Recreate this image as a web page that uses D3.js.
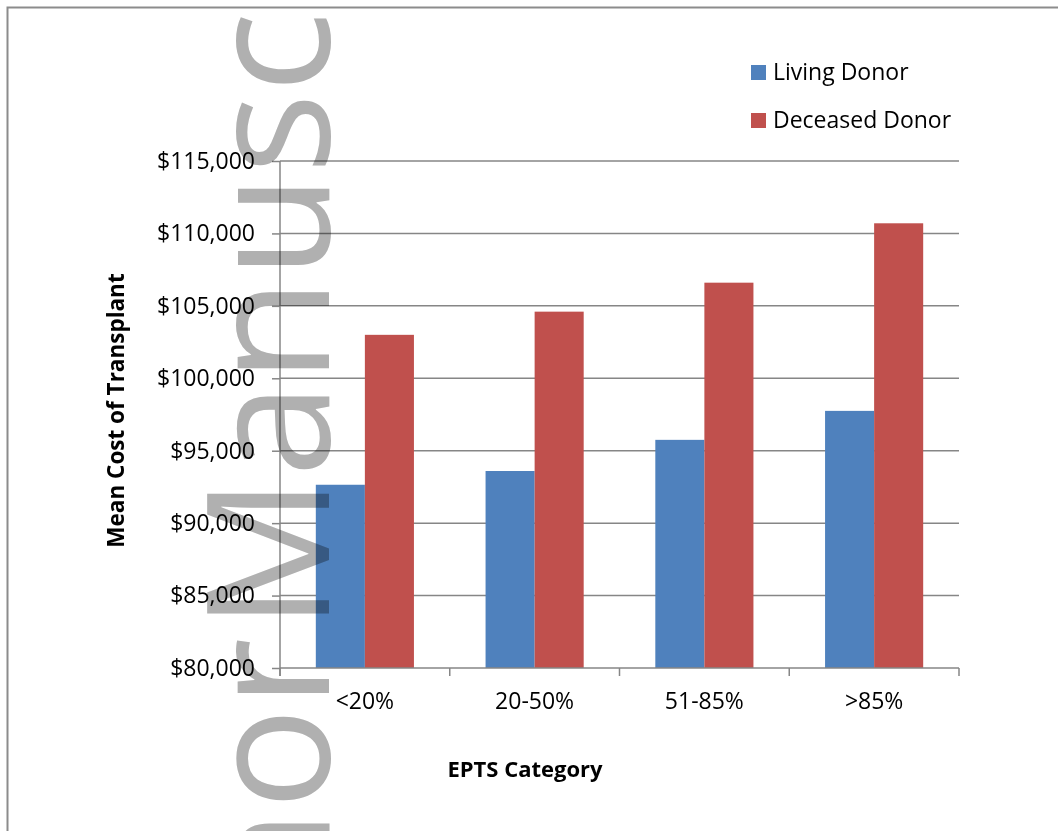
<!DOCTYPE html>
<html>
<head>
<meta charset="utf-8">
<script src="https://cdn.jsdelivr.net/npm/d3@7"></script>
<style>
  body { margin: 0; background: #fff; }
  svg { display: block; }
  text { font-family: "Open Sans", "DejaVu Sans", sans-serif; fill: #000; }
  .wm { mix-blend-mode: multiply; }
</style>
</head>
<body>
<svg id="chart" width="1058" height="831"></svg>
<script>
// data
var categories = ["<20%", "20-50%", "51-85%", ">85%"]
var series_names = ["Living Donor", "Deceased Donor"]
var living_donor = [92650, 93600, 95750, 97750]
var deceased_donor = [103000, 104600, 106600, 110700]
var y_ticks = [80000, 85000, 90000, 95000, 100000, 105000, 110000, 115000]
var series_colors = ["#4F81BD", "#C0504D"]

var svg = d3.select("#chart")
var width = 1058, height = 831
var plot_left = 280, plot_right = 959, plot_top = 161, plot_bottom = 668

// outer frame (only top and left are inside the picture)
svg.append("rect")
  .attr("x", 7.5).attr("y", 7.5)
  .attr("width", width + 20).attr("height", height + 20)
  .style("fill", "none")
  .style("stroke", "#8c8c8c")
  .style("stroke-width", 2)

var x = d3.scaleBand().domain(categories).range([plot_left, plot_right]).padding(0)
var x_sub = d3.scaleBand().domain(series_names).range([0, x.bandwidth()])
  .paddingInner(0).paddingOuter(0.73)
var y = d3.scaleLinear().domain([80000, 115000]).range([plot_bottom, plot_top])

// gridlines
svg.append("g")
  .selectAll("line")
  .data(y_ticks.slice(1))
  .enter()
  .append("line")
  .attr("x1", plot_left).attr("x2", plot_right)
  .attr("y1", d => y(d)).attr("y2", d => y(d))
  .style("stroke", "#868686")
  .style("stroke-width", 1.5)

// bars
var rows = categories.map((c, i) => ({cat: c, values: [living_donor[i], deceased_donor[i]]}))
svg.append("g")
  .selectAll("g")
  .data(rows)
  .enter()
  .append("g")
  .attr("transform", d => "translate(" + x(d.cat) + ",0)")
  .selectAll("rect")
  .data(d => d.values.map((v, j) => ({name: series_names[j], value: v, j: j})))
  .enter()
  .append("rect")
  .attr("x", d => x_sub(d.name))
  .attr("width", x_sub.bandwidth())
  .attr("y", d => y(d.value))
  .attr("height", d => plot_bottom - y(d.value))
  .style("fill", d => series_colors[d.j])

// y axis
var y_axis = svg.append("g")
  .attr("transform", "translate(" + plot_left + ",0)")
  .call(d3.axisLeft(y).tickValues(y_ticks).tickSize(8).tickPadding(17)
    .tickFormat(d => "$" + d3.format(",")(d)))
y_axis.select(".domain").attr("d", "M0," + plot_top + "V" + (plot_bottom + 8))
y_axis.selectAll("line, .domain").style("stroke", "#868686").style("stroke-width", 1.5)
y_axis.selectAll("text").style("font-size", "23px")

// x axis
var x_axis = svg.append("g")
  .attr("transform", "translate(0," + plot_bottom + ")")
  .call(d3.axisBottom(x).tickSize(0).tickPadding(25))
x_axis.select(".domain").attr("d", "M" + plot_left + ",0H" + plot_right)
x_axis.selectAll("line, .domain").style("stroke", "#868686").style("stroke-width", 1.5)
x_axis.selectAll("text").style("font-size", "23px")
x_axis.selectAll(".sep")
  .data(categories.map(c => x(c)).concat([plot_right]))
  .enter()
  .append("line")
  .attr("x1", d => d).attr("x2", d => d)
  .attr("y1", 0).attr("y2", 8)
  .style("stroke", "#868686").style("stroke-width", 1.5)

// axis titles
svg.append("text")
  .attr("transform", "translate(124," + ((plot_top + plot_bottom) / 2 - 4) + ") rotate(-90)")
  .attr("text-anchor", "middle")
  .style("font-size", "22.5px")
  .style("font-weight", "bold")
  .text("Mean Cost of Transplant")

svg.append("text")
  .attr("x", 525).attr("y", 777)
  .attr("text-anchor", "middle")
  .style("font-size", "22px")
  .style("font-weight", "bold")
  .text("EPTS Category")

// legend
var legend = svg.append("g")
  .selectAll("g")
  .data(series_names)
  .enter()
  .append("g")
  .attr("transform", (d, i) => "translate(751," + (65 + i * 48) + ")")
legend.append("rect")
  .attr("width", 15).attr("height", 15)
  .style("fill", (d, i) => series_colors[i])
legend.append("text")
  .attr("x", 22).attr("y", 15)
  .style("font-size", "23px")
  .text(d => d)

// watermark
var wm = svg.append("g").attr("class", "wm")
wm.append("text")
  .attr("transform", "translate(329,638) rotate(-90)")
  .attr("text-anchor", "end")
  .style("font-size", "170px")
  .style("fill", "#b0b0b0")
  .text("Author")
wm.append("text")
  .attr("transform", "translate(329,630) rotate(-90)")
  .style("font-size", "170px")
  .style("fill", "#b0b0b0")
  .text("Manuscript")
</script>
</body>
</html>
